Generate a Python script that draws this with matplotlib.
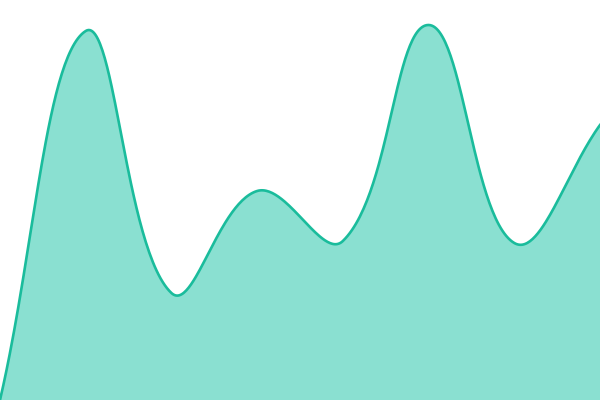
import numpy as np
import matplotlib
matplotlib.use("Agg")
import matplotlib.pyplot as plt

# values (height above bottom, 0..400 scale)
xs = [0, 1, 2, 3, 4, 5, 6, 7]
values = [0, 369, 107, 209, 159, 375, 157, 275]

line_color = "#1abc9c"
fill_color = "#8ae0d1"

W, H = 600, 400
tension = 0.4


def spline_controls(px, py, t=0.4):
    # bezier control points for each point, tension spline
    k = len(px)
    before, after = [], []
    for i in range(k):
        cx, cy = px[i], py[i]
        pvx, pvy = (px[i - 1], py[i - 1]) if i > 0 else (cx, cy)
        nxx, nxy = (px[i + 1], py[i + 1]) if i < k - 1 else (cx, cy)
        d01 = np.hypot(cx - pvx, cy - pvy)
        d12 = np.hypot(nxx - cx, nxy - cy)
        s01 = d01 / (d01 + d12) if d01 + d12 else 0
        s12 = d12 / (d01 + d12) if d01 + d12 else 0
        fa, fb = t * s01, t * s12
        before.append((cx - fa * (nxx - pvx), cy - fa * (nxy - pvy)))
        after.append((cx + fb * (nxx - pvx), cy + fb * (nxy - pvy)))
    return before, after


def bezier_path(px, py, t=0.4, n=60):
    before, after = spline_controls(px, py, t)
    out_x, out_y = [], []
    s = np.linspace(0, 1, n, endpoint=False)
    u = 1 - s
    for i in range(len(px) - 1):
        x1, y1 = px[i], py[i]
        x2, y2 = px[i + 1], py[i + 1]
        c1x, c1y = after[i]
        c2x, c2y = before[i + 1]
        out_x.append(u**3 * x1 + 3 * u**2 * s * c1x + 3 * u * s**2 * c2x + s**3 * x2)
        out_y.append(u**3 * y1 + 3 * u**2 * s * c1y + 3 * u * s**2 * c2y + s**3 * y2)
    out_x.append([px[-1]])
    out_y.append([py[-1]])
    return np.concatenate(out_x), np.concatenate(out_y)


px = np.array(xs, float) * W / (len(xs) - 1)
py = np.array(values, float)
sx, sy = bezier_path(px, py, tension)

fig = plt.figure(figsize=(6, 4), dpi=100)
ax = fig.add_axes([0, 0, 1, 1])
ax.fill_between(sx, 0, sy, color=fill_color, lw=0)
ax.plot(sx, sy, color=line_color, lw=1.9)
ax.set_xlim(0, W)
ax.set_ylim(0, H)
ax.axis("off")

fig.savefig("out.png", dpi=100)
